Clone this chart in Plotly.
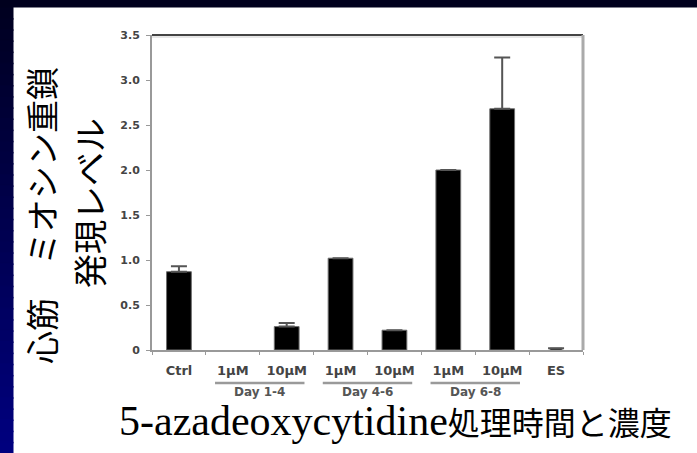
import plotly.graph_objects as go

# --- data -----------------------------------------------------------------
categories = ["Ctrl", "1μM", "10μM", "1μM", "10μM", "1μM", "10μM", "ES"]
expression = [0.87, 0.0, 0.26, 1.02, 0.22, 2.00, 2.68, 0.02]
error_plus = [0.06, 0.0, 0.04, 0.0, 0.0, 0.0, 0.57, 0.0]
groups = ["Day 1-4", "Day 4-6", "Day 6-8"]
group_members = [(1, 2), (3, 4), (5, 6)]
y_ticks = [0, 0.5, 1.0, 1.5, 2.0, 2.5, 3.0, 3.5]
y_ticktext = ["0", "0.5", "1.0", "1.5", "2.0", "2.5", "3.0", "3.5"]

W, H = 697, 453
L, R, T, B = 152, 583, 35, 350  # plot-area edges in pixels


def px_x(x):
    return (x - L) / (R - L)


def px_y(y):
    return (B - y) / (B - T)


x_idx = list(range(len(categories)))
bar_widths = [0.46] * len(categories)
bar_widths[-1] = 0.22
edge_widths = [1 if v > 0 else 0 for v in expression]

fig = go.Figure()
fig.add_trace(go.Bar(
    x=x_idx,
    y=expression,
    width=bar_widths,
    marker=dict(color="#000000", line=dict(color="#6e6e6e", width=edge_widths)),
    showlegend=False,
    hoverinfo="x+y",
))

# upper error whiskers, only on bars that were actually measured
err_idx = [i for i, v in enumerate(expression) if v > 0]
fig.add_trace(go.Scatter(
    x=[x_idx[i] for i in err_idx],
    y=[expression[i] for i in err_idx],
    mode="markers",
    marker=dict(size=1, color="rgba(0,0,0,0)"),
    error_y=dict(type="data", symmetric=False,
                 array=[error_plus[i] for i in err_idx],
                 arrayminus=[0] * len(err_idx),
                 color="#555555", thickness=2, width=8),
    showlegend=False,
    hoverinfo="skip",
))

shapes = []
# slide background: dark top band and a vertical navy gradient on the left
n_bands = 40
band_h = (H - 7) / n_bands
for i in range(n_bands):
    y0 = 7 + band_h * i
    y1 = y0 + band_h + 1.5  # overlap neighbours so no seams show
    t = (i + 0.5) / n_bands
    b = int(32 + (128 - 32) * t)
    shapes.append(dict(type="rect", xref="paper", yref="paper",
                       x0=px_x(-2), x1=px_x(13), y0=px_y(min(y1, H + 2)), y1=px_y(y0),
                       fillcolor=f"rgb(0,0,{b})", line=dict(color=f"rgb(0,0,{b})", width=1),
                       layer="below"))
shapes.append(dict(type="rect", xref="paper", yref="paper",
                   x0=px_x(-2), x1=px_x(W + 2), y0=px_y(7), y1=px_y(-2),
                   fillcolor="#00001e", line=dict(color="#00001e", width=1), layer="below"))

# chart frame: dark top edge, light shadowed right edge
shapes.append(dict(type="line", xref="paper", yref="paper", x0=0, x1=1,
                   y0=1, y1=1, line=dict(color="#444444", width=2)))
shapes.append(dict(type="line", xref="paper", yref="paper", x0=0, x1=1,
                   y0=px_y(T + 2), y1=px_y(T + 2), line=dict(color="#cfcfcf", width=1)))
shapes.append(dict(type="line", xref="paper", yref="paper", x0=1, x1=1,
                   y0=0, y1=1, line=dict(color="#aaaaaa", width=3)))

# treatment-window underlines
for (a, b) in group_members:
    mid = (a + b) / 2
    shapes.append(dict(type="line", xref="x", yref="paper",
                       x0=mid - 0.83, x1=mid + 0.83,
                       y0=px_y(383), y1=px_y(383),
                       line=dict(color="#9a9a9a", width=2.5)))

annotations = []
for name, (a, b) in zip(groups, group_members):
    annotations.append(dict(text=name, xref="x", yref="paper",
                            x=(a + b) / 2, y=px_y(392), showarrow=False,
                            xanchor="center", yanchor="middle",
                            font=dict(family="DejaVu Sans", size=12,
                                      color="#555555", weight="bold")))

# y-axis title, two rotated lines
annotations.append(dict(text="心筋　ミオシン重鎖", xref="paper", yref="paper",
                        x=px_x(41), y=px_y(216), showarrow=False, textangle=-90,
                        xanchor="center", yanchor="middle",
                        font=dict(family="Noto Sans CJK JP", size=33, color="#000000")))
annotations.append(dict(text="発現レベル", xref="paper", yref="paper",
                        x=px_x(88), y=px_y(203), showarrow=False, textangle=-90,
                        xanchor="center", yanchor="middle",
                        font=dict(family="Noto Sans CJK JP", size=34, color="#000000")))

# x-axis title
annotations.append(dict(
    text=('<span style="font-family:\'Liberation Serif\';font-size:42px">5-azadeoxycytidine</span>'
          '<span style="font-family:\'Noto Sans CJK JP\';font-size:32px">処理時間と濃度</span>'),
    xref="paper", yref="paper", x=px_x(117), y=px_y(421),
    showarrow=False, xanchor="left", yanchor="middle",
    font=dict(family="Liberation Serif", size=42, color="#000000")))

fig.update_layout(
    width=W, height=H,
    margin=dict(l=L, r=W - R, t=T, b=H - B, pad=0),
    paper_bgcolor="#ffffff",
    plot_bgcolor="#ffffff",
    shapes=shapes,
    annotations=annotations,
    xaxis=dict(
        range=[-0.5, len(categories) - 0.5],
        tickvals=x_idx, ticktext=categories,
        ticks="", showgrid=False, zeroline=False,
        showline=True, linecolor="#999999", linewidth=2,
        ticklabelstandoff=7,
        tickfont=dict(family="DejaVu Sans", size=13, color="#444444", weight="bold"),
        minor=dict(tick0=0.5, dtick=1, ticks="outside", ticklen=3,
                   tickwidth=1, tickcolor="#999999"),
        fixedrange=True,
    ),
    yaxis=dict(
        range=[0, 3.5],
        tickvals=y_ticks, ticktext=y_ticktext,
        ticks="outside", ticklen=4, tickwidth=1, tickcolor="#999999",
        showgrid=False, zeroline=False,
        showline=True, linecolor="#999999", linewidth=2,
        ticklabelstandoff=4,
        tickfont=dict(family="DejaVu Sans", size=11, color="#444444", weight="bold"),
        fixedrange=True,
    ),
)

fig.write_html("out.html")
